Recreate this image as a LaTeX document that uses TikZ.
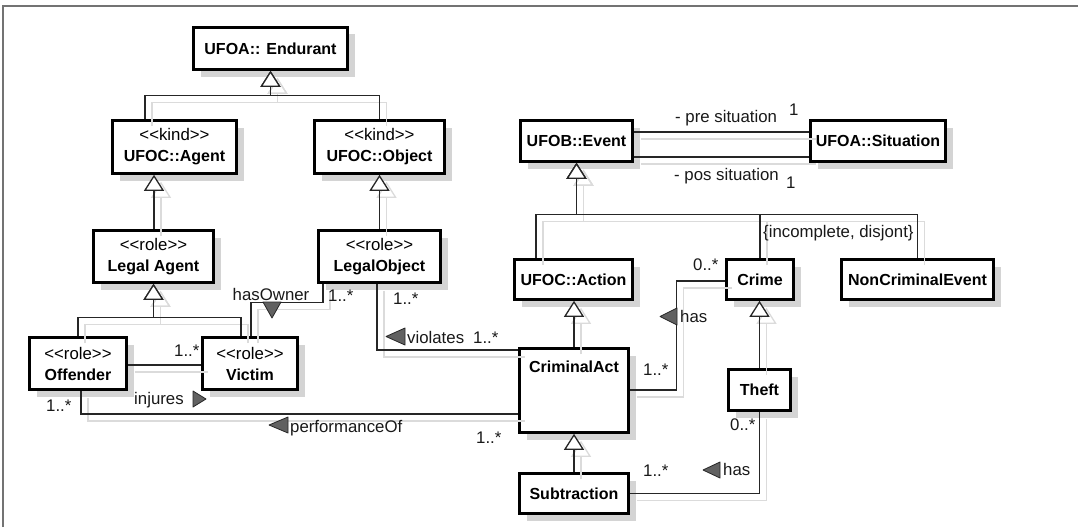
\documentclass[tikz,border=0pt]{standalone}
\usepackage{fontspec}
\setmainfont{Liberation Sans}[Ligatures=TeXOff]
\usetikzlibrary{arrows.meta,shadows}

\newcommand\regfont{\fontsize{16.8}{21}\selectfont}
\newcommand\clsname[1]{{\fontsize{16}{21}\selectfont\bfseries #1}}

% All connectors of the class diagram; #1 = style for generalisations,
% #2 = style for associations (called once for the shadows, once for the lines)
\newcommand\umlconnectors[2]{%
  % generalisation trees
  \draw[#1] ([xshift=-29.5pt]agent.north) |- ([yshift=-25pt]endurant.south) -- (endurant.south);
  \draw[#1] (object.north) |- ([yshift=-25pt]endurant.south) -- (endurant.south);
  \draw[#1] ([xshift=0.5pt]legalagent.north) -- ([xshift=-20.5pt]agent.south);
  \draw[#1] (legalobject.north) -- (object.south);
  \draw[#1] (offender.north) |- ([yshift=-34pt]legalagent.south) -- (legalagent.south);
  \draw[#1] ([xshift=-9pt]victim.north) |- ([yshift=-34pt]legalagent.south) -- (legalagent.south);
  \draw[#1] ([xshift=-37.5pt]action.north) |- ([yshift=-52pt]event.south) -- (event.south);
  \draw[#1] (crime.north) |- ([yshift=-52pt]event.south) -- (event.south);
  \draw[#1] (noncrim.north) |- ([yshift=-52pt]event.south) -- (event.south);
  \draw[#1] (crimact.north) -- (crimact.north |- action.south);
  \draw[#1] (subtraction.north) -- (crimact.south);
  \draw[#1] (theft.north) -- (theft.north |- crime.south);
  % associations
  \draw[#2] ([xshift=1pt]victim.north) -- ++(0,-34) -| ([xshift=-56.5pt]legalobject.south);
  \draw[#2] ([yshift=-1.5pt]offender.east) -- ([yshift=-1.5pt]victim.west);
  \draw[#2] ([xshift=3pt]offender.south) |- ([yshift=-23.5pt]crimact.west);
  \draw[#2] ([xshift=-2.5pt]legalobject.south) |- ([yshift=40.5pt]crimact.west);
  \draw[#2] ([yshift=0.5pt]crimact.east) -- ++(47,0) |- ([yshift=-1.5pt]crime.west);
  \draw[#2] (subtraction.east) -| (theft.south);
  \draw[#2] ([yshift=9pt]event.east) -- ([yshift=9pt]situation.west);
  \draw[#2] ([yshift=-16pt]event.east) -- ([yshift=-16pt]situation.west);
}

\begin{document}
\begin{tikzpicture}[x=1pt,y=-1pt,
  every node/.style={font=\regfont},
  cls/.style={draw=black, line width=2.6pt, fill=white, inner sep=0pt, align=center,
    general shadow={fill=black!17, shadow xshift=7pt, shadow yshift=-7pt}},
  lbl/.style={inner sep=0pt, text=black!90},
  gen/.style={draw=black!85, line width=1.3pt,
    -{Triangle[width=20pt,length=16pt,fill=white,line width=1.3pt]}},
  assoc/.style={draw=black!85, line width=1.3pt},
  genshadow/.style={draw=black!14, line width=1.3pt,
    -{Triangle[width=20pt,length=16pt,open,line width=1.3pt]},
    transform canvas={shift={(7pt,-7pt)}}},
  assocshadow/.style={draw=black!14, line width=1.3pt,
    transform canvas={shift={(7pt,-7pt)}}},
  navtri/.style={fill=black!62, draw=black!85, line width=0.8pt, line join=round}
]
\useasboundingbox (0,0) rectangle (1078,527);
\fill[white] (0,0) rectangle (1078,527);

% frame of the diagram sheet
\draw[line width=2pt, black!55] (3,527) -- (3,6) -- (1078,6);

% classes
\node[cls, minimum width=154pt, minimum height=42pt] (endurant) at (270.5,48.5) {\clsname{UFOA:: Endurant}};
\node[cls, minimum width=124pt, minimum height=53pt] (agent) at (174.5,147) {<<kind>>\\\clsname{UFOC::Agent}};
\node[cls, minimum width=130pt, minimum height=53pt] (object) at (379.5,147) {<<kind>>\\\clsname{UFOC::Object}};
\node[cls, minimum width=120pt, minimum height=52pt] (legalagent) at (153.5,256.5) {<<role>>\\\clsname{Legal Agent}};
\node[cls, minimum width=122pt, minimum height=52pt] (legalobject) at (379.5,256.5) {<<role>>\\\clsname{LegalObject}};
\node[cls, minimum width=97pt, minimum height=52pt] (offender) at (78,363.5) {<<role>>\\\clsname{Offender}};
\node[cls, minimum width=95pt, minimum height=52pt] (victim) at (250,363.5) {<<role>>\\\clsname{Victim}};
\node[cls, minimum width=112pt, minimum height=41pt] (event) at (576.5,141) {\clsname{UFOB::Event}};
\node[cls, minimum width=135pt, minimum height=41pt] (situation) at (878,141) {\clsname{UFOA::Situation}};
\node[cls, minimum width=118pt, minimum height=40pt] (action) at (573.5,279.5) {\clsname{UFOC::Action}};
\node[cls, minimum width=67pt, minimum height=40pt] (crime) at (760,279.5) {\clsname{Crime}};
\node[cls, minimum width=152pt, minimum height=40pt] (noncrim) at (917.5,279.5) {\clsname{NonCriminalEvent}};
\node[cls, minimum width=109pt, minimum height=84pt] (crimact) at (574,390.5) {};
\node[inner sep=0pt] (crimactname) at (574,367) {\clsname{CriminalAct}};
\node[cls, minimum width=109pt, minimum height=40pt] (subtraction) at (574,493.5) {\clsname{Subtraction}};
\node[cls, minimum width=62pt, minimum height=41pt] (theft) at (759.5,390) {\clsname{Theft}};

% connectors: light shadows first, then the lines themselves
\umlconnectors{genshadow}{assocshadow}
\umlconnectors{gen}{assoc}

% reading-direction triangles of the associations
\filldraw[navtri] (263,302) -- (281,302) -- (272,318) -- cycle;
\filldraw[navtri] (193,391) -- (193,407) -- (206,399) -- cycle;
\filldraw[navtri] (405,328) -- (405,345) -- (386,336.5) -- cycle;
\filldraw[navtri] (288,417) -- (288,433) -- (269,425) -- cycle;
\filldraw[navtri] (677,308) -- (677,325) -- (660,316.5) -- cycle;
\filldraw[navtri] (720,462) -- (720,478) -- (703,470) -- cycle;

% association names and multiplicities
\node[lbl, anchor=base] (lhasowner) at (271,300) {hasOwner};
\node[lbl, anchor=base west] (mlo1) at (328,301) {1..*};
\node[lbl, anchor=base west] (mlo2) at (393,304) {1..*};
\node[lbl, anchor=base west] (lviolates) at (407,343) {violates};
\node[lbl, anchor=base west] (mca1) at (473,343) {1..*};
\node[lbl, anchor=base west] (mvic) at (174,356) {1..*};
\node[lbl, anchor=base west] (linjures) at (134,404) {injures};
\node[lbl, anchor=base west] (moff) at (46,411) {1..*};
\node[lbl, anchor=base west] (lperf) at (290,432) {performanceOf};
\node[lbl, anchor=base west] (mca2) at (476,443) {1..*};
\node[lbl, anchor=base west] (mca3) at (643,375) {1..*};
\node[lbl, anchor=base west] (lhas1) at (680,322) {has};
\node[lbl, anchor=base west] (mcrime) at (693,270) {0..*};
\node[lbl, anchor=base west] (mtheft) at (730,430) {0..*};
\node[lbl, anchor=base west] (lhas2) at (723,475) {has};
\node[lbl, anchor=base west] (msub) at (643,476) {1..*};
\node[lbl, anchor=base west] (lpre) at (675,122) {- pre situation};
\node[lbl, anchor=base west] (mpre) at (789,115) {1};
\node[lbl, anchor=base west] (lpos) at (674,180) {- pos situation};
\node[lbl, anchor=base west] (mpos) at (786,188) {1};
\node[lbl, anchor=base west] (lset) at (763,237) {\{incomplete, disjont\}};
\end{tikzpicture}
\end{document}
